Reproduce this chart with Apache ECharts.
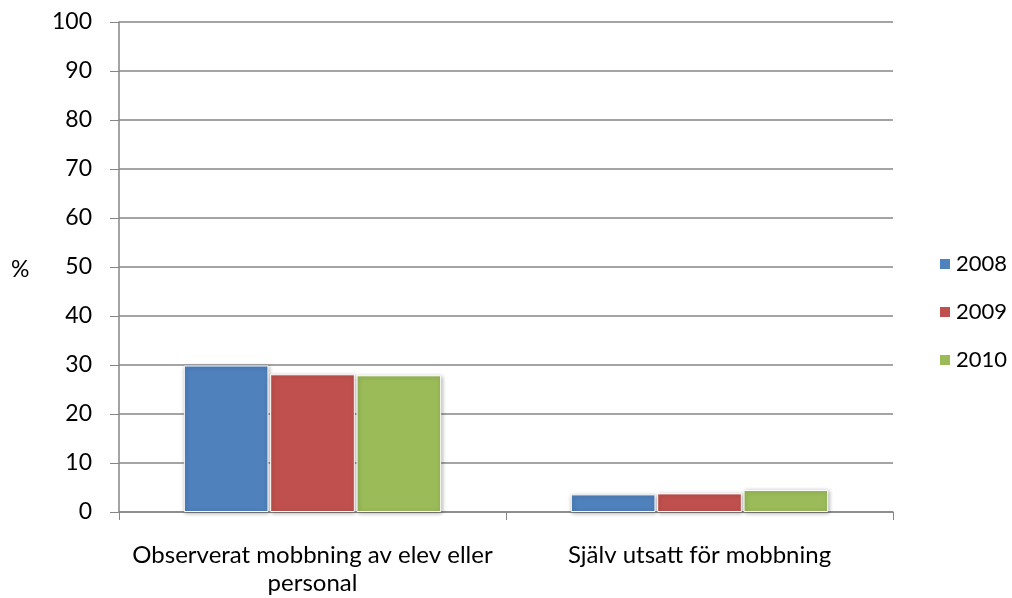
<!DOCTYPE html>
<html><head><meta charset="utf-8">
<script src="https://cdn.jsdelivr.net/npm/echarts@6/dist/echarts.min.js"></script>
<style>html,body{margin:0;padding:0;background:#fff}#c{width:1012px;height:598px}</style>
</head><body><div id="c"></div>
<script>
const categories = ['Observerat mobbning av elev eller\npersonal', 'Själv utsatt för mobbning'];
const seriesNames = ['2008', '2009', '2010'];
const values2008 = [29.9, 3.6];
const values2009 = [28.1, 3.8];
const values2010 = [27.9, 4.5];
const colors = ['#4F81BD', '#C0504D', '#9BBB59'];
const yTicks = [0, 10, 20, 30, 40, 50, 60, 70, 80, 90, 100];
const font = 'Lato, "Open Sans", sans-serif';

const chart = echarts.init(document.getElementById('c'));
const data = [values2008, values2009, values2010];
chart.setOption({
  animation: false,
  textStyle: {fontFamily: font},
  grid: {left: 119, right: 119, top: 22, bottom: 86},
  legend: {
    orient: 'vertical', left: 938, top: 253, padding: 0, itemWidth: 12, itemHeight: 12, itemGap: 26,
    icon: 'rect',
    textStyle: {fontSize: 22, color: '#000', fontFamily: font},
    data: seriesNames
  },
  graphic: [{type: 'text', left: 11, top: 258, style: {text: '%', fontSize: 23, fill: '#000', fontFamily: font}}],
  xAxis: {
    type: 'category', data: categories,
    axisLine: {lineStyle: {color: '#868686', width: 1.5}},
    axisTick: {show: true, length: 8, lineStyle: {color: '#868686'}},
    axisLabel: {color: '#000', fontSize: 24, margin: 29, lineHeight: 28, interval: 0, fontFamily: font}
  },
  yAxis: {
    type: 'value', min: yTicks[0], max: yTicks[yTicks.length - 1], interval: 10,
    axisLine: {show: true, lineStyle: {color: '#868686', width: 1.5}},
    axisTick: {show: true, length: 9, lineStyle: {color: '#868686'}},
    axisLabel: {color: '#000', fontSize: 23, margin: 27, fontFamily: font},
    splitLine: {lineStyle: {color: '#868686', width: 1.5}}
  },
  series: seriesNames.map((n, i) => ({
    name: n, type: 'bar', data: data[i],
    barGap: '2%', barCategoryGap: '33.5%',
    itemStyle: {color: colors[i], borderColor: '#fff', borderWidth: 1,
      shadowColor: 'rgba(0,0,0,0.3)', shadowBlur: 4, shadowOffsetX: 1, shadowOffsetY: 1}
  }))
});
</script></body></html>
